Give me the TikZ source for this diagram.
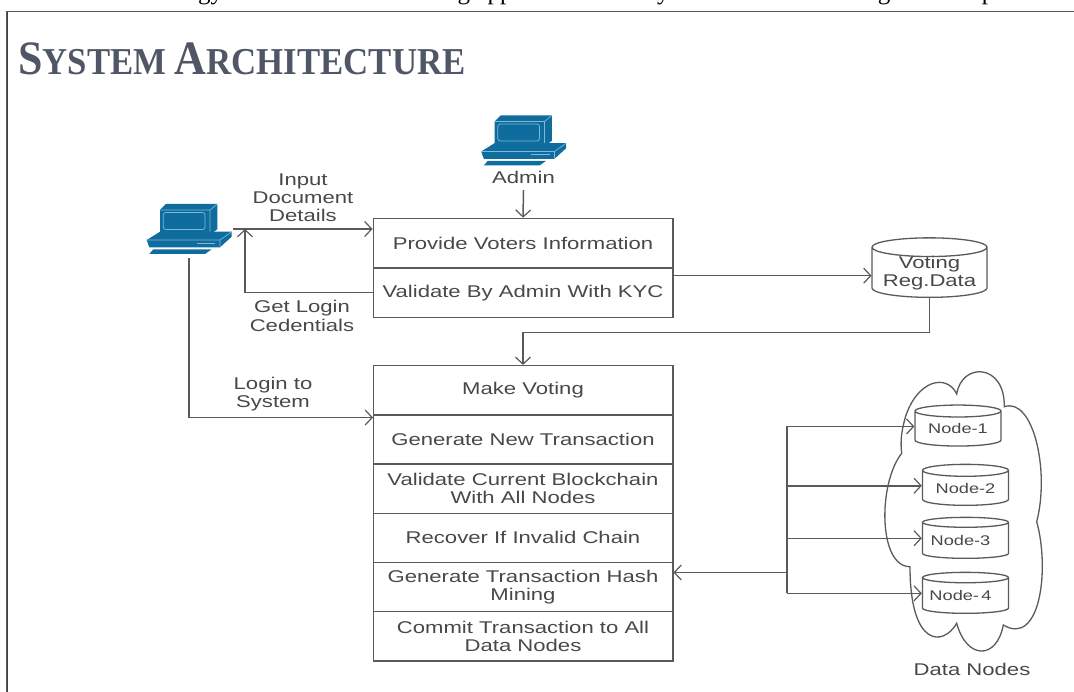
\documentclass[tikz,border=0pt]{standalone}
\usepackage{fontspec}
\usetikzlibrary{arrows.meta,shapes.geometric}
\setmainfont{Liberation Sans}
\newfontfamily\lab{Liberation Sans}[FakeStretch=1.3]
\newfontfamily\ttl{Liberation Serif}[FakeStretch=0.915]
\newfontfamily\cpt{Liberation Serif}
\definecolor{ln}{HTML}{5A5A5A}
\definecolor{tx}{HTML}{484848}
\definecolor{pcb}{HTML}{0E6C9E}
\definecolor{pcl}{HTML}{7FB9D6}
\definecolor{ttc}{HTML}{4F5666}
\tikzset{
  x=1pt,y=-1pt,
  conn/.style={draw=ln,line width=1.5pt},
  arr/.style={conn,-{Straight Barb[length=7pt,width=15pt,line width=1.2pt]}},
  lbl/.style={font=\lab\fontsize{17}{18.3}\selectfont,text=tx,align=center,inner sep=0pt},
  row/.style={draw=ln,line width=1.5pt,minimum width=299.5pt,inner sep=0pt,align=center,font=\lab\fontsize{17}{18.3}\selectfont,text=tx},
  db/.style={cylinder,shape border rotate=90,anchor=south,draw=ln,line width=1.3pt,fill=white,inner sep=0pt,align=center,shape aspect=.2,font=\lab\fontsize{17}{18.3}\selectfont,text=tx},
  ndb/.style={db,minimum width=86pt,minimum height=41pt,font=\lab\fontsize{14}{15}\selectfont},
  computer/.pic={
    \fill[pcb] (13,7)--(19,1)--(70.3,1)--(70.3,26.3)--(64.7,30.3)--(13,30.3)--cycle;
    \draw[pcl,line width=.7pt] (13,7)--(63,7)--(63,29) (63,7)--(70.3,1);
    \draw[pcl,line width=.7pt,rounded corners=2.5pt] (16.3,9.5) rectangle (58,26.5);
    \fill[pcb] (13,28.7)--(84.7,28.7)--(84.7,33.7)--(73,44.3)--(2.3,44.3)--(-.3,37)--cycle;
    \draw[pcl,line width=.7pt] (-.3,37)--(73,37)--(84.7,28.7) (73,37)--(73,44.3);
    \draw[pcl,line width=1pt] (49.7,40.5)--(68,40.5);
    \fill[pcb] (6.3,46.3)--(64.7,46.3)--(58,51)--(2.3,51)--cycle;
  }
}
\begin{document}
\begin{tikzpicture}
\useasboundingbox (0,0) rectangle (1074,692);
\begin{scope}
  \clip (0,0) rectangle (1074,10);
  \node[anchor=base west,inner sep=0pt,font=\cpt\fontsize{25}{25}\selectfont] (cap) at (-41,-0.5) {the blockchain technology for transaction in voting application. The system architecture diagram is depicted};
\end{scope}
\draw[ln,line width=1.4pt] (1074,11.5)--(6.5,11.5)--(6.5,692);
\draw[black!75,line width=.8pt] (7.5,12)--(7.5,692);
\node[anchor=base west,inner sep=0pt,text=ttc] (title) at (18,75) {\ttl\bfseries\fontsize{48}{48}\selectfont S\fontsize{38}{38}\selectfont YSTEM \fontsize{48}{48}\selectfont A\fontsize{38}{38}\selectfont RCHITECTURE};

% computers
\node[minimum width=87pt,minimum height=58pt,inner sep=0pt] (pc) at (189,229) {};
\pic at (147,203) {computer};
\pic at (481.5,114.5) {computer};
\node[lbl,minimum height=26pt] (admin) at (523.5,177) {Admin};

% upper box
\node[row,minimum height=49.5pt] (b1a) at (523,243.2) {Provide Voters Information};
\node[row,minimum height=49.5pt] (b1b) at (523,292.7) {Validate By Admin With KYC};

% lower box
\node[row,minimum height=49.2pt] (b2a) at (523,390.3) {Make Voting};
\node[row,minimum height=49.2pt] (b2b) at (523,439.5) {Generate New Transaction};
\node[row,minimum height=49.2pt] (b2c) at (523,488.7) {Validate Current Blockchain\\With All Nodes};
\node[row,minimum height=49.2pt] (b2d) at (523,537.9) {Recover If Invalid Chain};
\node[row,minimum height=49.2pt] (b2e) at (523,587.1) {Generate Transaction Hash\\Mining};
\node[row,minimum height=49.2pt] (b2f) at (523,636.3) {Commit Transaction to All\\Data Nodes};

% cloud
\draw[ln,line width=1.3pt] (905,418.3)
  .. controls (916.7,380) and (946.7,373) .. (956.7,394)
  .. controls (961.7,362) and (1005,363) .. (1004.3,406.7)
  .. controls (1033,397) and (1050,470) .. (1036.7,521.7)
  .. controls (1050,570) and (1040,647) .. (1003.3,625)
  .. controls (996.7,660) and (966.7,660) .. (956.7,623.3)
  .. controls (943,647) and (910,647) .. (910,566.7)
  .. controls (878,566.7) and (878,483) .. (901.7,453.3)
  .. controls (900,440) and (902,430) .. (905,418.3);

% cylinders
\node[db,minimum width=115pt,minimum height=59.5pt] (vr) at (929.5,298) {\phantom{Reg.Data}};
\node[lbl] (vrt) at (929.5,273) {Voting\\Reg.Data};
\node[ndb] (n1) at (958,446.7) {Node-1};
\node[ndb] (n2) at (965.5,506) {Node-2};
\node[ndb] (n3) at (965.5,559) {\hspace*{-10pt}Node-3};
\node[ndb] (n4) at (965.5,614) {\hspace*{-10pt}Node-\,4};

% labels
\node[lbl] (l1) at (303,197.7) {Input\\Document\\Details};
\node[lbl] (l2) at (302,316) {Get Login\\Cedentials};
\node[lbl] (l3) at (273,394) {Login to\\System};
\node[lbl] (l4) at (972,669) {Data Nodes};

% free ends
\coordinate (gl) at (245,229);
\coordinate (li) at (373,417.5);
\coordinate (hub) at (787,572.5);
\coordinate (dn) at (523,332.3);
\coordinate (vi) at (871.5,275.7);
\coordinate (e1) at ([yshift=2.4pt]n1.west);
\coordinate (e2) at ([yshift=2.4pt]n2.west);
\coordinate (e3) at ([yshift=2.4pt]n3.west);
\coordinate (e4) at ([yshift=2.4pt]n4.west);

% connectors
\draw[arr] (admin.south) -- (b1a.north);
\draw[arr] (pc.east) -- (pc.east -| b1a.west);
\draw[arr] (b1b.west) -| (gl);
\draw[arr] (pc.south) |- (li);
\draw[arr] (b1b.east |- vi) -- (vi);
\draw[arr] (vr.south) |- (dn) -- (b2a.north);
\draw[arr] (hub) -- (b2e.east |- hub);
\draw[conn] (hub |- e1) -- (hub |- e4);
\draw[arr] (hub |- e1) -- (e1);
\draw[arr] (hub |- e2) -- (e2);
\draw[arr] (hub |- e3) -- (e3);
\draw[arr] (hub |- e4) -- (e4);
\end{tikzpicture}
\end{document}
